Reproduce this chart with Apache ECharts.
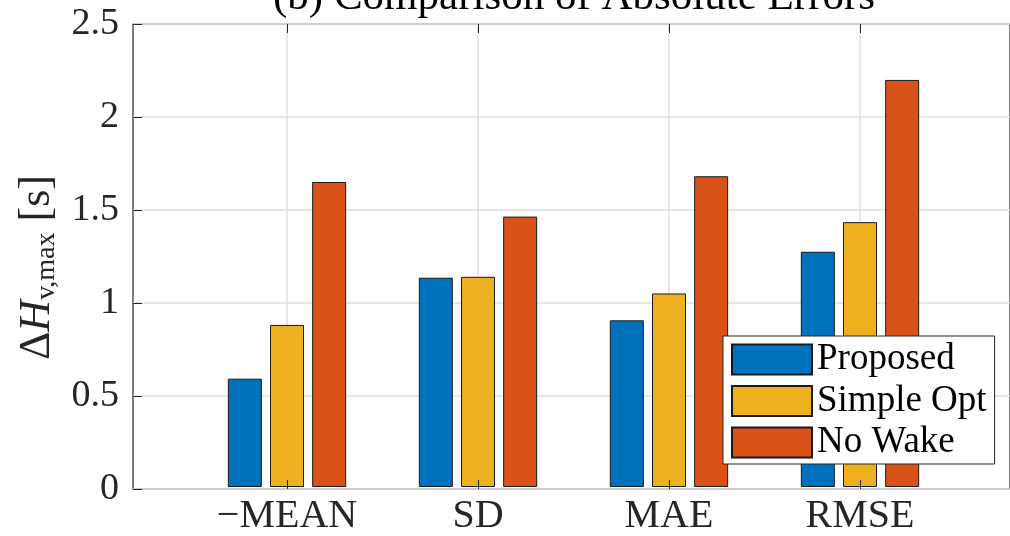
<!DOCTYPE html>
<html><head><meta charset="utf-8">
<script src="https://cdn.jsdelivr.net/npm/echarts@6/dist/echarts.min.js"></script>
<style>html,body{margin:0;padding:0;background:#fff}#c{width:1010px;height:536px}</style>
</head><body><div id="c"></div>
<script>
const categories = ['\u2212MEAN', 'SD', 'MAE', 'RMSE'];
const seriesNames = ['Proposed', 'Simple Opt', 'No Wake'];
const proposed = [0.585, 1.13, 0.90, 1.27];
const simpleOpt = [0.875, 1.135, 1.045, 1.43];
const noWake = [1.647, 1.46, 1.678, 2.198];
const yMin = 0, yMax = 2.5, yStep = 0.5;
const titleText = '(b) Comparison of Absolute Errors';

const FONT = '"Liberation Serif", "Times New Roman", serif';
const AX = '#262626';
const GRIDC = '#dfdfdf';
const colors = ['#0072BD', '#EDB120', '#D95319'];
const values = [proposed, simpleOpt, noWake];

const chart = echarts.init(document.getElementById('c'), null, {renderer: 'canvas'});
const G = {top: 24, bottom: 47};
chart.setOption({
  animation: false,
  backgroundColor: '#fff',
  title: {
    text: titleText, left: 574, top: -24, padding: 0, textAlign: 'center',
    textStyle: {fontFamily: FONT, fontSize: 43, fontWeight: 'normal', color: '#000'}
  },
  legend: {
    orient: 'vertical', left: 723, top: 336, padding: [5, 8, 3, 8],
    itemWidth: 80, itemHeight: 30, itemGap: 4.5, icon: 'rect',
    backgroundColor: '#fff', borderColor: AX, borderWidth: 1, borderRadius: 0,
    textStyle: {fontFamily: FONT, fontSize: 37, color: '#000', lineHeight: 30},
    data: seriesNames
  },
  grid: [
    {left: 133, right: -10, top: G.top, bottom: G.bottom, show: true, borderColor: AX, borderWidth: 1.2, backgroundColor: 'transparent'},
    {left: 191.5, right: 54.5, top: G.top, bottom: G.bottom},
    {left: 287, right: 150, top: G.top, bottom: G.bottom}
  ],
  xAxis: [
    {gridIndex: 0, type: 'value', min: 0, max: 1, show: false},
    {gridIndex: 1, type: 'category', data: categories, axisLine: {show: false}, axisTick: {show: false},
     splitLine: {show: false},
     axisLabel: {fontFamily: FONT, fontSize: 40, color: AX, margin: 9}},
    {gridIndex: 2, type: 'category', data: categories, boundaryGap: false, position: 'bottom', z: 10,
     axisLine: {show: false}, axisLabel: {show: false}, splitLine: {show: false},
     axisTick: {show: true, inside: true, length: 9, lineStyle: {color: AX, width: 1}}},
    {gridIndex: 2, type: 'category', data: categories, boundaryGap: false, position: 'top',
     axisLine: {show: false}, axisLabel: {show: false},
     axisTick: {show: true, inside: true, length: 9, lineStyle: {color: AX, width: 1}},
     splitLine: {show: true, lineStyle: {color: GRIDC, width: 1.5}}}
  ],
  yAxis: [
    {gridIndex: 0, type: 'value', min: yMin, max: yMax, interval: yStep,
     axisLine: {show: false},
     axisTick: {show: true, inside: true, length: 9, lineStyle: {color: AX}},
     axisLabel: {fontFamily: FONT, fontSize: 38, color: AX, margin: 14},
     splitLine: {show: true, lineStyle: {color: GRIDC, width: 1.5}},
     name: '{d|\u0394}{h|H}{s|v,max}{d| [s]}',
     nameLocation: 'middle', nameRotate: 90, nameGap: 72,
     nameTextStyle: {
       padding: [0, 22, 0, 0],
       rich: {
         d: {fontFamily: FONT, fontSize: 44, color: AX},
         h: {fontFamily: FONT, fontSize: 44, fontStyle: 'italic', color: AX},
         s: {fontFamily: FONT, fontSize: 28, color: AX, padding: [18, 0, 0, 0]}
       }
     }},
    {gridIndex: 1, type: 'value', min: yMin, max: yMax, interval: yStep, show: false},
    {gridIndex: 2, type: 'value', min: yMin, max: yMax, interval: yStep, show: false}
  ],
  series: seriesNames.map((n, i) => ({
    name: n, type: 'bar', xAxisIndex: 1, yAxisIndex: 1,
    barWidth: 34, barGap: '24%',
    itemStyle: {color: colors[i], borderColor: '#1a1a1a', borderWidth: 1},
    data: values[i]
  }))
});
</script>
</body></html>
